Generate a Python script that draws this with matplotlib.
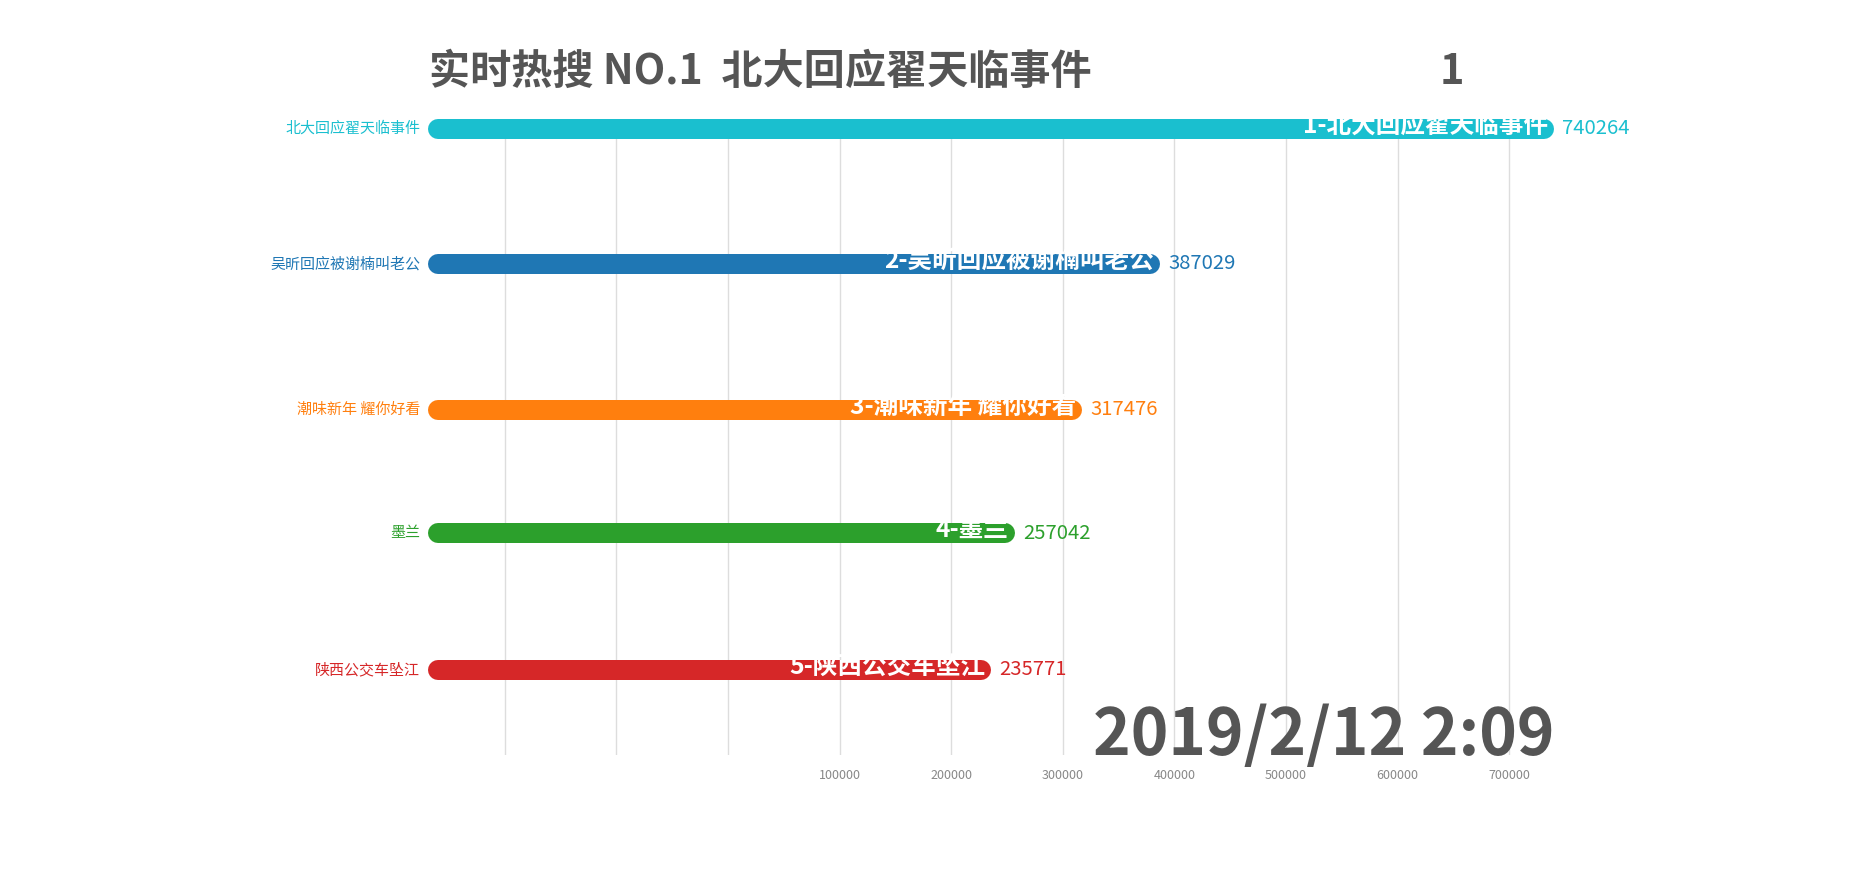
import matplotlib.pyplot as plt

plt.rcParams['font.family'] = ['Noto Sans CJK SC', 'DejaVu Sans']

# data for this frame of the race
names = ['北大回应翟天临事件', '吴昕回应被谢楠叫老公', '潮味新年 耀你好看', '墨兰', '陕西公交车坠江']
values = [740264, 387029, 317476, 257042, 235771]
rank_pos = [1, 2, 3.08, 3.99, 5]   # ranks are mid-transition in this frame
colors = ['#1abfcf', '#1f77b4', '#ff7f0e', '#2ca02c', '#d62728']
ticks = [-200000, -100000, 0, 100000, 200000, 300000, 400000, 500000, 600000, 700000]
title = '实时热搜 NO.1  北大回应翟天临事件'
rank_no = '1'
stamp = '2019/2/12 2:09'

W, H, DPI = 1876, 894, 100
fig = plt.figure(figsize=(W / DPI, H / DPI), dpi=DPI)
ax = fig.add_axes([428 / W, (H - 755) / H, 1126.1 / W, 626.2 / H])

xmin, xmax = -268800, 740264
ax.set_xlim(xmin, xmax)
ax.set_ylim(5.632, 1.0)

bar_px = 20
px_per_unit = 1126.1 / (xmax - xmin)
cap = (bar_px / 2) / px_per_unit

for nm, v, y, c, i in zip(names, values, rank_pos, colors, range(len(names))):
    ax.hlines(y, xmin + cap, v - cap, colors=c, lw=bar_px * 72 / DPI,
              capstyle='round', clip_on=False, zorder=3)
    # category label on the left
    ax.annotate(nm, xy=(xmin, y), xytext=(-8, 0), textcoords='offset pixels',
                ha='right', va='center', fontsize=10.8, color=c, annotation_clip=False)
    # label inside the bar
    ax.annotate(f'{i + 1}-{nm}', xy=(v, y), xytext=(-6, 3), textcoords='offset pixels',
                ha='right', va='center', fontsize=17.7, color='white', fontweight='bold',
                annotation_clip=False, zorder=4)
    # value to the right
    ax.annotate(str(v), xy=(v, y), xytext=(8, 0), textcoords='offset pixels',
                ha='left', va='center', fontsize=14.6, color=c, annotation_clip=False)

ax.set_xticks(ticks)
ax.set_xticklabels([str(t) if t > 0 else '' for t in ticks])
ax.tick_params(axis='x', length=0, pad=10, labelsize=9, labelcolor='#888888')
ax.set_yticks([])
ax.grid(axis='x', color='#dddddd', lw=1)
ax.set_axisbelow(True)
for s in ax.spines.values():
    s.set_visible(False)

ax.text(1.0, 0.0, stamp, transform=ax.transAxes, ha='right', va='baseline',
        fontsize=46, fontweight='bold', color='#555555', zorder=5)

fig.text(429 / W, 1 - 72 / H, title, ha='left', va='center', fontsize=29.6,
         fontweight='bold', color='#555555')
fig.text(1452 / W, 1 - 72 / H, rank_no, ha='center', va='center', fontsize=30,
         fontweight='bold', color='#555555')

fig.savefig('out.png', dpi=DPI)
